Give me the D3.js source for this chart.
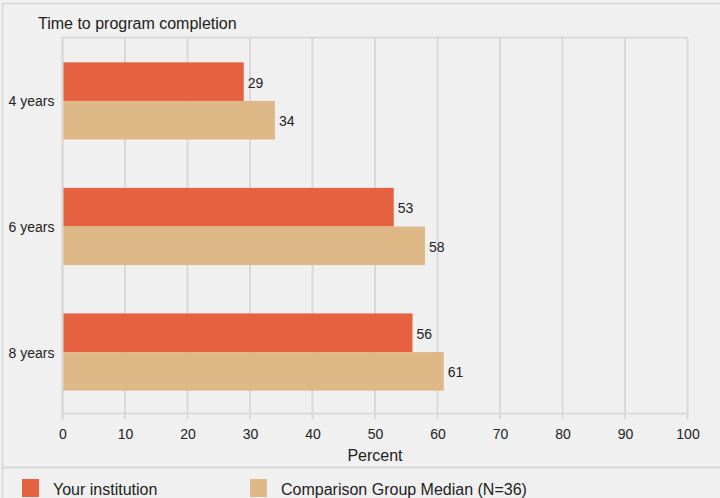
<!DOCTYPE html>
<html>
<head>
<meta charset="utf-8">
<script src="https://cdn.jsdelivr.net/npm/d3@7"></script>
<style>
  body { margin: 0; background: #f0f0f0; }
  svg { display: block; font-family: Arial, "Liberation Sans", sans-serif; }
</style>
</head>
<body>
<svg id="chart" width="720" height="498"></svg>
<script>
// data
const categories = ["4 years", "6 years", "8 years"];
const seriesNames = ["Your institution", "Comparison Group Median (N=36)"];
const yourInstitution = [29, 53, 56];
const comparisonMedian = [34, 58, 61];
const xTicks = [0, 10, 20, 30, 40, 50, 60, 70, 80, 90, 100];

const colors = ["#e5613f", "#deb887"];
const gridColor = "#d9d9d9";

const margin = {top: 37.5, right: 32, bottom: 84.5, left: 62.5};
const width = 720, height = 498;

const svg = d3.select('#chart');

// outer frame
svg.append('rect')
  .attr('x', 2.5).attr('y', 3.5)
  .attr('width', 730).attr('height', 510)
  .attr('fill', '#f0f0f0')
  .attr('stroke', '#d6d6d6')
  .attr('stroke-width', 1.5);

const xScale = d3.scaleLinear()
  .domain([0, 100])
  .range([margin.left, width - margin.right - 0.5]);

const yScale = d3.scaleBand()
  .domain(categories)
  .range([margin.top + 1, height - margin.bottom + 1])
  .paddingInner(0.385)
  .paddingOuter(0.19);

const sub = d3.scaleBand()
  .domain([0, 1])
  .range([0, yScale.bandwidth()]);

// grid
svg.append('g')
  .selectAll('line')
  .data(xTicks)
  .join('line')
    .attr('x1', d => xScale(d)).attr('x2', d => xScale(d))
    .attr('y1', margin.top).attr('y2', height - margin.bottom + 6)
    .attr('stroke', gridColor)
    .attr('stroke-width', 2);

// top and bottom frame of plot
svg.append('line')
  .attr('x1', xScale(0)).attr('x2', xScale(100))
  .attr('y1', margin.top).attr('y2', margin.top)
  .attr('stroke', gridColor).attr('stroke-width', 2);

svg.append('line')
  .attr('x1', xScale(0)).attr('x2', xScale(100))
  .attr('y1', height - margin.bottom).attr('y2', height - margin.bottom)
  .attr('stroke', gridColor).attr('stroke-width', 2);

// x axis labels
const xAxis = d3.axisBottom(xScale).tickValues(xTicks).tickSize(0).tickPadding(0);
const xAxisGroup = svg.append('g')
  .attr('transform', `translate(0, ${height - margin.bottom + 16})`)
  .call(xAxis);
xAxisGroup.select('.domain').remove();
xAxisGroup.selectAll('text')
  .attr('font-size', 14)
  .attr('font-family', 'Arial, "Liberation Sans", sans-serif')
  .attr('fill', '#222')
  .attr('dy', '0.71em');

svg.append('text')
  .attr('x', (xScale(0) + xScale(100)) / 2)
  .attr('y', 461)
  .attr('text-anchor', 'middle')
  .attr('font-size', 16)
  .attr('fill', '#222')
  .text('Percent');

// y axis labels
const yAxis = d3.axisLeft(yScale).tickSize(0).tickPadding(8);
const yAxisGroup = svg.append('g')
  .attr('transform', `translate(${margin.left}, 1)`)
  .call(yAxis);
yAxisGroup.select('.domain').remove();
yAxisGroup.selectAll('text')
  .attr('font-size', 14)
  .attr('font-family', 'Arial, "Liberation Sans", sans-serif')
  .attr('fill', '#222');

// bars
const rows = categories.map((c, i) => ({cat: c, values: [yourInstitution[i], comparisonMedian[i]]}));

const groups = svg.append('g')
  .selectAll('g')
  .data(rows)
  .join('g')
    .attr('transform', d => `translate(0, ${yScale(d.cat)})`);

groups.selectAll('rect')
  .data(d => d.values.map((v, s) => ({v, s})))
  .join('rect')
    .attr('x', xScale(0))
    .attr('y', d => sub(d.s))
    .attr('width', d => xScale(d.v) - xScale(0))
    .attr('height', sub.bandwidth())
    .attr('fill', d => colors[d.s]);

groups.selectAll('text')
  .data(d => d.values.map((v, s) => ({v, s})))
  .join('text')
    .attr('x', d => xScale(d.v) + 4)
    .attr('y', d => sub(d.s) + sub.bandwidth() / 2 + 1)
    .attr('dy', '0.35em')
    .attr('font-size', 14)
    .attr('fill', '#222')
    .text(d => d.v);

// left axis line
svg.append('line')
  .attr('x1', xScale(0)).attr('x2', xScale(0))
  .attr('y1', margin.top).attr('y2', height - margin.bottom + 6)
  .attr('stroke', gridColor).attr('stroke-width', 2);

// title
svg.append('text')
  .attr('x', 38)
  .attr('y', 29)
  .attr('font-size', 16)
  .attr('fill', '#222')
  .text('Time to program completion');

// legend
svg.append('line')
  .attr('x1', 2).attr('x2', width)
  .attr('y1', 467.5).attr('y2', 467.5)
  .attr('stroke', '#d6d6d6').attr('stroke-width', 2);

const legendX = [22, 250];
const legend = svg.append('g')
  .selectAll('g')
  .data(seriesNames)
  .join('g')
    .attr('transform', (d, i) => `translate(${legendX[i]}, 479)`);

legend.append('rect')
  .attr('width', 17).attr('height', 18)
  .attr('fill', (d, i) => colors[i]);

legend.append('text')
  .attr('x', 31)
  .attr('y', 10)
  .attr('dy', '0.35em')
  .attr('font-size', 16)
  .attr('fill', '#222')
  .text(d => d);
</script>
</body>
</html>
